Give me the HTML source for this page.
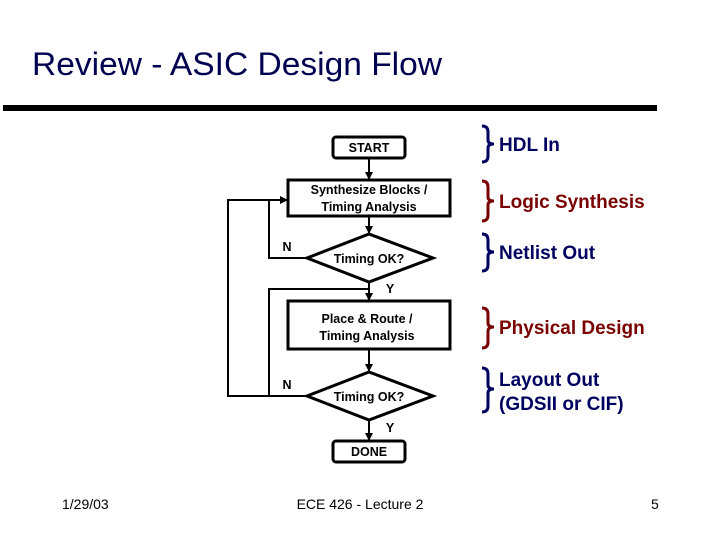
<!DOCTYPE html>
<html><head><meta charset="utf-8"><style>
html,body{margin:0;padding:0;background:#fff;}
svg{display:block;font-family:"Liberation Sans",Arial,sans-serif;}
</style></head><body>
<svg width="720" height="540" viewBox="0 0 720 540" xmlns="http://www.w3.org/2000/svg">
<defs><marker id="a" markerWidth="8" markerHeight="8" refX="7" refY="4" orient="auto" markerUnits="userSpaceOnUse"><path d="M0,0 L8,4 L0,8 z" fill="#000"/></marker></defs>
<text x="32" y="75" font-size="32" fill="#000050" textLength="410" lengthAdjust="spacingAndGlyphs">Review - ASIC Design Flow</text>
<rect x="3" y="105" width="654" height="6" fill="#000"/>
<g stroke="#000" stroke-width="3" fill="none">
<rect x="333" y="137" width="72" height="21" rx="3"/>
<rect x="288" y="180" width="162" height="36"/>
<polygon points="369,234 433,258 369,282 307,258"/>
<rect x="288" y="301" width="162" height="48"/>
<polygon points="369,372 433,396 369,420 307,396"/>
<rect x="333" y="441" width="72" height="21" rx="3"/>
</g>
<g stroke="#000" stroke-width="2" fill="none">
<line x1="369" y1="158" x2="369" y2="179" marker-end="url(#a)"/>
<line x1="369" y1="216" x2="369" y2="233" marker-end="url(#a)"/>
<line x1="369" y1="282" x2="369" y2="300" marker-end="url(#a)"/>
<line x1="369" y1="349" x2="369" y2="371" marker-end="url(#a)"/>
<line x1="369" y1="420" x2="369" y2="440" marker-end="url(#a)"/>
<polyline points="307,258 269,258 269,200 287,200" marker-end="url(#a)"/>
<polyline points="269,200 228,200 228,396 307,396"/>
<polyline points="369,289 269,289 269,396"/>
</g>
<g font-size="12.5" font-weight="bold" fill="#000" text-anchor="middle">
<text x="369" y="152">START</text>
<text x="369" y="194">Synthesize Blocks /</text>
<text x="369" y="211">Timing Analysis</text>
<text x="369" y="263">Timing OK?</text>
<text x="367" y="323">Place &amp; Route /</text>
<text x="367" y="340">Timing Analysis</text>
<text x="369" y="401">Timing OK?</text>
<text x="369" y="456">DONE</text>
<text x="287" y="251">N</text>
<text x="287" y="389">N</text>
<text x="390" y="293">Y</text>
<text x="390" y="432">Y</text>
</g>
<g fill="none" stroke-width="3">
<path d="M482,126 Q488,126 488,132 L488,140 Q488,144 494,144 Q488,144 488,148 L488,156 Q488,162 482,162" stroke="#000060"/>
<path d="M482,181 Q488,181 488,187 L488,197 Q488,201 494,201 Q488,201 488,205 L488,215 Q488,221 482,221" stroke="#7a0000"/>
<path d="M482,234 Q488,234 488,240 L488,248 Q488,252 494,252 Q488,252 488,256 L488,265 Q488,271 482,271" stroke="#000060"/>
<path d="M482,308 Q488,308 488,314 L488,323 Q488,327 494,327 Q488,327 488,331 L488,342 Q488,348 482,348" stroke="#7a0000"/>
<path d="M482,368 Q488,368 488,374 L488,385 Q488,389 494,389 Q488,389 488,393 L488,406 Q488,412 482,412" stroke="#000060"/>
</g>
<g font-size="19" font-weight="bold">
<text x="499" y="151" fill="#000060">HDL In</text>
<text x="499" y="208" fill="#7a0000">Logic Synthesis</text>
<text x="499" y="259" fill="#000060">Netlist Out</text>
<text x="499" y="334" fill="#7a0000">Physical Design</text>
<text x="499" y="386" fill="#000060">Layout Out</text>
<text x="499" y="410" fill="#000060">(GDSII or CIF)</text>
</g>
<g font-size="14" fill="#000">
<text x="62" y="509">1/29/03</text>
<text x="360" y="509" text-anchor="middle">ECE 426 - Lecture 2</text>
<text x="651" y="509">5</text>
</g>
</svg>
</body></html>
